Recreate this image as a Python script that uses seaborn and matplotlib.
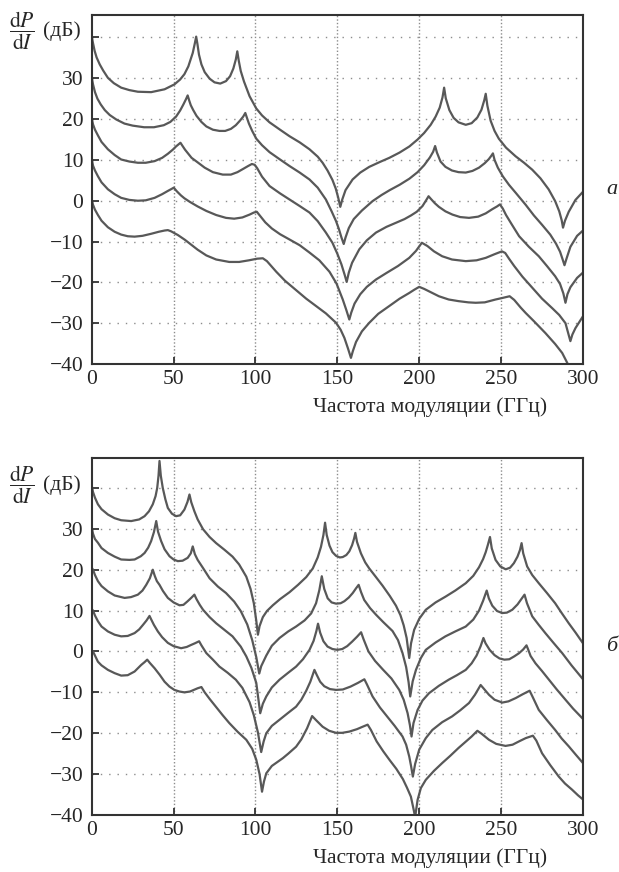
import pandas as pd
import seaborn as sns
import matplotlib.pyplot as plt
from matplotlib.ticker import FixedLocator

# Curves as (frequency GHz, dP/dI dB) points.
# ---- panel "а" ----
a1 = [(0, 40.3), (0.8, 38.6), (1.8, 36.7), (3, 35.1), (4.9, 33.4), (7, 31.9), (9.9, 30.1),
      (13.5, 28.8), (18, 27.7), (23, 27.1), (28.2, 26.7), (36.3, 26.6), (44.5, 27.3),
      (50.5, 28.5), (54, 29.7), (56.6, 31.0), (59, 32.9), (61.7, 36.2), (63, 38.6),
      (63.8, 40.2), (64.6, 38.3), (65.5, 35.8), (67, 33.4), (69, 31.5), (72, 29.9),
      (75, 29.0), (78.5, 28.7), (82, 29.3), (84.5, 30.5), (86.5, 32.4), (88, 34.6),
      (88.9, 36.6), (89.8, 34.3), (91, 31.8), (93, 29.2), (96.4, 25.6), (100.5, 22.6),
      (104, 20.9), (108.6, 19.2), (115, 17.4), (120.8, 15.8), (127, 14.3), (133, 12.6),
      (138, 10.8), (141, 9.3), (144, 7.4), (147, 5.1), (149, 3.0), (150.5, 0.8),
      (151.8, -1.5), (153, 0.3), (155, 2.6), (159.3, 5.2), (164, 6.9), (169.5, 8.3),
      (176, 9.5), (181.7, 10.5), (188, 11.8), (194, 13.3), (199, 15.0), (203, 16.6),
      (207, 18.6), (210, 20.6), (212.5, 22.8), (214.2, 25.3), (215.2, 27.7), (216.2, 25.1),
      (218.4, 22.2), (221, 20.3), (224, 19.2), (228.4, 18.6), (232, 19.0), (235.5, 20.4),
      (238, 22.3), (239.7, 24.6), (240.6, 26.2), (241.6, 23.3), (243.6, 19.6), (246, 17.1),
      (248.6, 15.2), (253, 13.0), (258.8, 10.9), (264, 9.3), (269, 7.6), (274, 5.5),
      (279, 2.8), (283, -0.1), (285.5, -2.6), (287, -4.8), (287.8, -6.6), (289, -4.9),
      (291.3, -2.7), (295.4, 0.2), (300, 2.2)]

a2 = [(0, 30.3), (0.8, 28.5), (2, 26.6), (3.5, 25.0), (5.5, 23.6), (8, 22.2), (11, 21.0),
      (15, 19.9), (20, 18.9), (25, 18.4), (32, 18.0), (38, 18.0), (44, 18.5), (48, 19.3),
      (51.5, 20.6), (54, 22.1), (56, 23.6), (57.6, 24.9), (58.6, 25.8), (59.5, 24.6),
      (60.5, 23.4), (62, 22.2), (64, 20.8), (67, 19.3), (70, 18.2), (74, 17.4), (78, 17.1),
      (81.5, 17.1), (85, 17.6), (88, 18.5), (90.5, 19.6), (92.5, 20.6), (93.8, 21.5),
      (94.8, 20.3), (96, 18.9), (98, 17.1), (100.5, 15.2), (104, 13.6), (108.6, 11.9),
      (115, 10.1), (120.8, 8.5), (127, 6.9), (133, 5.2), (138, 3.2), (143, 0.3),
      (146.5, -2.6), (149.2, -5.0), (151, -7.0), (152.5, -9.0), (153.9, -10.6), (155, -9.0),
      (157, -6.7), (160, -4.5), (165, -2.4), (171.5, -0.1), (177, 1.4), (182, 2.6),
      (188, 3.9), (194, 5.4), (199, 7.0), (203, 8.7), (206.5, 10.6), (208.5, 12.0),
      (209.7, 13.4), (210.8, 11.8), (213, 9.6), (216, 8.3), (220, 7.4), (224, 7.0),
      (228.4, 6.9), (232.5, 7.3), (236.5, 8.1), (240, 9.2), (242.5, 10.2), (244, 11.0),
      (245, 11.6), (246, 10.0), (248, 8.1), (251, 6.0), (254.8, 3.9), (259, 1.9),
      (265, -1.0), (270, -3.6), (275, -5.9), (280, -8.3), (283.5, -10.5), (286, -12.5),
      (287.5, -14.3), (288.7, -15.8), (290, -14.1), (292.3, -11.3), (296.4, -8.6),
      (300, -7.3)]

a3 = [(0, 20.3), (0.8, 18.7), (2, 17.4), (3.8, 16.0), (6, 14.4), (9.9, 12.6), (14, 11.2),
      (18, 10.1), (23, 9.6), (28.2, 9.3), (33, 9.3), (38.4, 9.7), (43, 10.5), (46.5, 11.5),
      (49.5, 12.5), (51.5, 13.3), (53, 13.8), (54.2, 14.2), (55.5, 13.4), (57, 12.5),
      (58.6, 11.7), (61, 10.5), (64.7, 9.4), (69, 8.1), (74, 7.0), (80, 6.4), (85, 6.4),
      (89, 7.0), (92.5, 7.8), (95.5, 8.5), (97.8, 9.0), (99.5, 8.8), (101, 8.0),
      (104, 5.9), (108.6, 3.6), (115, 1.8), (120.8, 0.3), (127, -1.3), (133, -2.9),
      (138, -5.0), (143, -7.8), (147, -10.3), (150, -13.0), (152.5, -15.6), (154.5, -18.2),
      (155.7, -19.9), (157, -17.6), (159, -15.2), (163.4, -11.9), (168, -9.7),
      (173.6, -7.8), (180, -6.4), (185.8, -5.4), (191, -4.5), (195, -3.6), (198.5, -2.7),
      (202, -1.3), (204.5, 0.3), (205.7, 1.1), (207, 0.5), (209.5, -0.6), (212, -1.5),
      (216, -2.6), (220.3, -3.4), (225, -4.0), (230.4, -4.2), (236, -3.9), (240.6, -3.1),
      (244.5, -2.1), (247.5, -1.4), (249.3, -0.9), (251, -1.9), (253, -3.5), (256.5, -5.8),
      (261, -8.7), (267, -11.3), (273, -13.6), (278, -16.0), (283, -18.5), (286, -20.4),
      (288, -22.7), (289.3, -25.0), (290.5, -22.9), (292.3, -21.2), (296.4, -18.9),
      (300, -17.6)]

a4 = [(0, 10.3), (0.8, 8.6), (2, 7.4), (3.8, 6.0), (6, 4.5), (9.9, 2.8), (14, 1.6),
      (18, 0.7), (23, 0.2), (28.2, 0.0), (33, 0.1), (38.4, 0.7), (43, 1.6), (46.5, 2.4),
      (48.8, 2.9), (50.1, 3.2), (52, 2.3), (54.5, 1.3), (56.6, 0.6), (60, -0.3),
      (64.7, -1.4), (70, -2.5), (76, -3.5), (82, -4.2), (87, -4.4), (92, -4.1),
      (96.4, -3.4), (99, -2.9), (100.8, -2.7), (103, -3.8), (106, -5.3), (110, -6.8),
      (115, -8.2), (120.8, -9.5), (127, -10.9), (133, -12.7), (139, -14.6), (145.2, -17.4),
      (149.5, -20.3), (153.3, -24.2), (155.5, -26.8), (157.3, -29.1), (158.5, -27.4),
      (160.5, -25.2), (164, -22.9), (168, -21.1), (173.6, -19.3), (180, -17.7),
      (187, -16.0), (193.9, -14.0), (198, -12.3), (201.6, -10.3), (205, -11.1),
      (209, -12.4), (214, -13.6), (220, -14.4), (228.4, -14.8), (235, -14.6),
      (240.6, -14.0), (246, -13.1), (250.5, -12.4), (252.5, -12.8), (255, -14.3),
      (258, -16.0), (263, -18.6), (269, -21.3), (275, -24.0), (281.4, -26.4),
      (285.5, -28.0), (289.3, -30.0), (291, -32.5), (292.3, -34.4), (293.5, -32.8),
      (295.4, -31.2), (300, -28.3)]

a5 = [(0, 0.3), (0.8, -1.0), (2, -2.2), (3.8, -3.5), (6, -4.9), (9.9, -6.5), (14, -7.6),
      (18, -8.3), (22, -8.7), (26.2, -8.8), (31, -8.6), (36.3, -8.1), (41, -7.6),
      (44.5, -7.3), (46.5, -7.2), (48.5, -7.5), (52.6, -8.4), (57, -9.6), (64.7, -12.0),
      (70, -13.4), (76, -14.4), (84, -15.0), (90, -15.0), (96, -14.6), (101, -14.2),
      (104.5, -14.1), (107, -14.8), (112.7, -17.4), (118, -19.6), (124.8, -21.9),
      (131, -24.0), (137, -25.8), (143, -27.6), (149.2, -29.9), (152, -31.6),
      (154.3, -33.6), (156.5, -36.2), (158.3, -38.5), (159.5, -36.8), (161.4, -34.6),
      (165, -32.0), (169.5, -29.9), (175, -27.7), (181.7, -25.8), (188, -24.0),
      (193.9, -22.6), (197, -21.8), (200, -21.1), (203, -21.6), (207, -22.4), (212, -23.4),
      (218, -24.2), (224, -24.6), (230, -24.9), (234.5, -25.0), (240, -24.9),
      (246.6, -24.2), (251, -23.8), (255.2, -23.4), (258, -24.3), (262, -26.2),
      (265, -27.5), (270, -29.5), (277, -32.4), (283, -35.1), (287.3, -37.3), (292, -41.0)]

# ---- panel "б" ----
b1 = [(0, 40.6), (0.8, 39.0), (2, 37.6), (3.8, 36.0), (6, 34.8), (9.9, 33.5), (14, 32.6),
      (18, 32.1), (24.1, 31.9), (29, 32.3), (32.3, 33.1), (35, 34.3), (37.3, 36.0),
      (39, 38.0), (40, 40.0), (40.8, 43.0), (41.4, 46.6), (42.2, 43.0), (43.4, 40.0),
      (45, 37.2), (46.5, 35.1), (49, 33.7), (51.5, 33.1), (54, 33.3), (56.6, 34.7),
      (58.5, 36.6), (59.7, 38.4), (60.8, 36.5), (62.7, 34.3), (64.7, 32.3), (68, 29.9),
      (72, 28.0), (76, 26.5), (81, 24.9), (86, 23.2), (90, 21.3), (94.4, 18.3), (97, 15.3),
      (99, 11.8), (100.5, 7.5), (101.5, 4.1), (102.5, 6.2), (104.5, 8.4), (107, 9.9),
      (110.6, 11.3), (115, 12.8), (120.8, 14.5), (126, 16.3), (131, 18.2), (135, 20.3),
      (138, 23.0), (140, 25.6), (141.5, 28.5), (142.5, 31.5), (143.5, 28.5), (145.2, 25.9),
      (147, 24.3), (149.2, 23.4), (151.5, 23.0), (153.3, 23.1), (155.5, 23.6),
      (157.3, 24.5), (159, 26.0), (160.2, 27.6), (161, 29.0), (162, 26.8), (164.4, 24.0),
      (167, 21.8), (169.5, 20.3), (173, 18.5), (177.6, 16.1), (182, 13.6), (185.8, 11.2),
      (188.5, 8.9), (190.5, 6.4), (192.3, 3.3), (193.9, -1.6), (195, 2.0), (196.9, 5.3),
      (200, 8.0), (204, 10.2), (210, 12.0), (216, 13.4), (222, 14.9), (228.4, 16.7),
      (233, 18.5), (236.5, 20.6), (239, 22.6), (240.6, 24.3), (242, 26.2), (243.2, 28.0),
      (244.3, 25.2), (246.6, 22.4), (249.5, 20.8), (252.8, 20.1), (255.5, 20.5),
      (257.8, 21.6), (260, 23.2), (261.5, 24.8), (262.5, 26.5), (263.5, 24.0),
      (265.9, 20.8), (269, 18.7), (273, 16.7), (278, 14.3), (283, 11.8), (287, 9.4),
      (291.3, 6.9), (295.5, 4.6), (300, 2.0)]

b2 = [(0, 30.4), (0.8, 28.8), (2, 27.5), (3.8, 26.6), (6, 25.3), (9.9, 24.1), (14, 23.2),
      (18, 22.5), (23, 22.4), (26.2, 22.5), (30, 23.3), (32.3, 24.1), (34.5, 25.4),
      (36.3, 27.0), (38, 29.2), (39.4, 31.9), (40.5, 29.3), (42.4, 27.0), (44.5, 25.0),
      (47.5, 23.3), (50, 22.5), (52.6, 22.1), (55.5, 22.2), (58.6, 22.9), (60.5, 24.0),
      (61.7, 25.7), (63, 23.8), (64.7, 22.4), (68, 20.4), (72, 17.9), (77, 15.9),
      (82, 14.3), (87, 12.2), (91, 9.9), (95, 6.6), (98, 2.8), (100.5, -1.4),
      (102.3, -5.4), (103.5, -3.6), (106.6, -1.0), (110, 1.4), (114.7, 3.3), (120, 4.9),
      (124.8, 6.1), (130, 7.6), (134, 9.3), (137, 11.8), (139, 15.0), (140.5, 18.4),
      (142, 15.3), (144.1, 13.0), (146.5, 12.0), (149.2, 11.7), (152, 11.8), (154.3, 12.3),
      (157, 13.2), (159.4, 14.3), (161.5, 15.5), (163, 16.3), (164.5, 14.5), (166.4, 12.6),
      (170, 10.6), (173.6, 9.0), (178, 7.2), (183.7, 5.0), (187, 2.8), (189.8, -0.4),
      (192, -3.8), (193.5, -7.5), (194.5, -11.0), (196, -7.3), (198, -4.5), (201, -1.6),
      (204, 0.4), (210, 2.2), (216, 3.7), (222, 4.9), (228.4, 6.1), (233, 7.8),
      (236.5, 10.0), (239, 12.4), (241.2, 14.9), (242.5, 13.0), (244.6, 11.2),
      (247.5, 9.9), (250.7, 9.4), (253.5, 9.5), (256.8, 10.2), (260, 11.5), (262.5, 12.9),
      (264.3, 13.9), (265.8, 11.8), (269, 8.6), (273, 6.5), (277, 4.5), (282, 2.1),
      (287.3, -0.4), (293, -3.4), (300, -6.8)]

b3 = [(0, 20.5), (0.8, 20.0), (2, 18.7), (3.8, 17.2), (6, 16.0), (9.9, 14.7), (14, 13.7),
      (20.1, 13.1), (24, 13.3), (28.2, 13.9), (31, 14.9), (33.3, 16.3), (35.5, 17.9),
      (37.3, 20.0), (38.5, 18.5), (39.8, 17.2), (41.4, 16.3), (43.5, 14.8), (46.5, 13.1),
      (50, 12.0), (53.6, 11.3), (56, 11.4), (58.6, 12.3), (61, 13.2), (62.7, 13.9),
      (64, 12.8), (66, 11.4), (68, 10.2), (72, 8.4), (76, 6.9), (81, 5.3), (86, 3.7),
      (91, 1.2), (94.4, -1.2), (97.5, -4.0), (100.5, -7.7), (102.9, -15.1), (104.5, -12.8),
      (106.6, -11.0), (110, -8.8), (114.7, -6.9), (120, -5.2), (124.8, -3.7), (129, -1.9),
      (133, 0.4), (135.5, 2.6), (137.2, 5.0), (138.2, 6.8), (139.5, 4.6), (141.5, 2.5),
      (144, 1.2), (147, 0.6), (150, 0.4), (153, 0.6), (156, 1.3), (159, 2.4), (162, 3.6),
      (164.5, 4.7), (166, 3.0), (169, 0.0), (173, -2.3), (178, -4.5), (183, -6.6),
      (187.8, -9.4), (190.5, -11.8), (192.9, -15.1), (194.3, -18.0), (195.3, -20.8),
      (196.5, -17.5), (199, -14.3), (202, -12.0), (206, -10.2), (212, -8.4), (218, -6.9),
      (223, -5.8), (228.4, -4.5), (232, -2.9), (235, -1.0), (237.5, 1.3), (239.2, 3.3),
      (240.5, 2.0), (243, 0.4), (246, -0.9), (249, -1.7), (252, -2.0), (255, -1.9),
      (258, -1.2), (261, -0.4), (263.5, 0.5), (265.5, 1.5), (266.5, 0.5), (268, -1.1),
      (271, -2.9), (275, -4.8), (279.2, -6.9), (284, -9.3), (289.3, -11.8), (294, -14.0),
      (300, -16.5)]

b4 = [(0, 10.4), (0.8, 10.0), (2, 8.8), (3.8, 7.4), (6, 6.1), (9.9, 4.9), (14, 4.1),
      (18, 3.7), (22, 3.8), (26.2, 4.5), (29, 5.4), (31.3, 6.5), (33.5, 7.6), (35.3, 8.7),
      (36.5, 7.7), (38, 6.5), (40.4, 4.9), (43, 3.5), (46.5, 2.1), (50, 1.3), (54.6, 0.8),
      (58, 1.1), (60.7, 1.6), (63, 2.0), (65.6, 2.5), (67, 1.5), (70, -0.4), (74, -2.0),
      (78, -3.7), (83, -5.2), (88, -6.9), (92, -8.9), (96.4, -12.4), (99, -15.6),
      (101.5, -19.8), (103.5, -24.6), (105, -22.0), (106.6, -20.0), (110, -18.2),
      (114.7, -16.7), (120, -15.0), (124.8, -13.5), (128, -11.8), (131, -9.6),
      (133.5, -7.4), (136, -4.5), (137.5, -5.8), (139.5, -7.4), (142, -8.5), (145.5, -9.2),
      (149.2, -9.4), (153.3, -9.3), (158, -8.6), (162.5, -7.7), (166.5, -6.8), (168, -8.0),
      (171.5, -11.0), (176, -13.7), (180, -15.7), (185, -18.2), (189.8, -20.8),
      (192, -22.8), (193.9, -25.7), (195, -28.0), (196.1, -30.6), (197.5, -27.5),
      (200, -24.0), (204, -21.2), (208, -19.2), (214, -17.3), (220, -15.9), (225, -14.4),
      (230.4, -12.6), (234, -10.6), (237.5, -8.2), (239, -8.9), (242.6, -10.6),
      (246, -11.8), (250.7, -12.5), (254.5, -12.2), (258.9, -11.4), (263, -10.5),
      (267.4, -9.6), (269, -10.9), (273, -14.3), (278, -16.8), (283, -19.2), (287, -21.3),
      (291.3, -23.2), (295.5, -25.2), (300, -27.3)]

b5 = [(0, 0.3), (0.8, 0.0), (2, -1.0), (3.8, -2.5), (6, -3.4), (9.9, -4.5), (14, -5.3),
      (18, -5.9), (22, -5.8), (26.2, -4.9), (30.2, -3.3), (32.3, -2.6), (33.9, -2.0),
      (35.5, -2.8), (38.4, -4.1), (41.5, -5.7), (44.5, -7.4), (47.5, -8.6), (50.5, -9.4),
      (53.6, -9.8), (56.6, -10.0), (60, -9.8), (64.7, -9.0), (67, -8.7), (69, -10.0),
      (72, -11.6), (76, -13.6), (80, -15.6), (84, -17.5), (89, -19.6), (94.4, -21.6),
      (98, -23.8), (100.5, -26.5), (102.5, -30.0), (104, -34.3), (105.2, -31.8),
      (106.6, -29.8), (110, -28.0), (116.7, -26.1), (120, -25.0), (124.8, -23.3),
      (128, -21.5), (131.5, -18.8), (134.6, -15.8), (137, -16.8), (141, -18.4),
      (145, -19.4), (149.2, -19.9), (153, -19.9), (157.3, -19.6), (162, -19.0),
      (165.5, -18.4), (168.5, -17.9), (170.5, -19.2), (174, -22.0), (178, -24.4),
      (182, -26.6), (186, -28.7), (190, -31.2), (192.5, -33.3), (194.9, -35.5),
      (196.5, -38.5), (197.5, -40.5), (199, -36.3), (201, -33.4), (204, -31.4),
      (209, -29.2), (214, -27.3), (219, -25.5), (224, -23.6), (228, -22.2), (232, -20.8),
      (235.5, -19.4), (238, -20.1), (242.6, -21.6), (247, -22.6), (252.7, -23.1),
      (257, -22.8), (260.9, -22.0), (265, -21.2), (269.4, -20.6), (271.5, -21.8),
      (275, -24.9), (280, -27.8), (285.2, -30.6), (289, -32.3), (293.3, -33.8),
      (297, -35.2), (300, -36.2)]

y_ticks = [-40, -30, -20, -10, 0, 10, 20, 30, 40]
y_ticklabels = ["\u221240", "\u221230", "\u221220", "\u221210", "0", "10", "20", "30", ""]
x_ticks = [0, 50, 100, 150, 200, 250, 300]
xlabel = "Частота модуляции (ГГц)"
ylabel_frac = r"$\dfrac{\mathrm{d}P}{\mathrm{d}I}$"
ylabel_unit = "(дБ)"

W, H = 619, 872
CURVE = "#585858"
GRID = "#8c8c8c"
FS = 15.5

sns.set_theme(style="white")
plt.rcParams["font.family"] = ["Liberation Serif", "DejaVu Serif"]
plt.rcParams["mathtext.fontset"] = "stix"
plt.rcParams["axes.unicode_minus"] = True

fig = plt.figure(figsize=(W / 100, H / 100), dpi=100)


def make_panel(bottom_px, top_px, ytop, curves, tag, tag_y, ylab_y):
    left, right = 91.7, 583
    ax = fig.add_axes([left / W, 1 - bottom_px / H,
                       (right - left) / W, (bottom_px - top_px) / H])
    for pts in curves:
        df = pd.DataFrame(pts, columns=["f", "db"])
        sns.lineplot(data=df, x="f", y="db", ax=ax, color=CURVE, lw=1.6,
                     sort=False, estimator=None)
    ax.set_xlim(0, 300)
    ax.set_ylim(-40, ytop)
    ax.set_xlabel("")
    ax.set_ylabel("")
    ax.xaxis.set_major_locator(FixedLocator(x_ticks))
    ax.set_yticks(y_ticks)
    ax.set_yticklabels(y_ticklabels)
    ax.tick_params(direction="in", length=5, width=1.3, color="#333333",
                   labelsize=FS, pad=6, left=True, bottom=True)
    ax.tick_params(axis="x", pad=4)
    for s in ax.spines.values():
        s.set_color("#333333")
        s.set_linewidth(1.5)
    # dotted reference grid
    for y in y_ticks[1:]:
        ax.axhline(y, color=GRID, lw=1.0, ls=(0, (1, 5)), zorder=0)
    for x in x_ticks[1:-1]:
        ax.axvline(x, color=GRID, lw=1.0, ls=(0, (1, 1.5)), zorder=0)
    # y label: fraction and unit side by side, centred on the same line
    fig.text(22 / W, 1 - ylab_y / H, ylabel_frac, ha="center", va="center",
             fontsize=FS)
    fig.text(43 / W, 1 - ylab_y / H, ylabel_unit, ha="left", va="center",
             fontsize=FS)
    fig.text(547 / W, 1 - (bottom_px + 43) / H, xlabel, ha="right", va="center",
             fontsize=FS)
    fig.text(612 / W, 1 - tag_y / H, tag, ha="center", va="center",
             fontsize=16, style="italic")
    return ax


make_panel(364, 15, 45.5, [a1, a2, a3, a4, a5], "а", 190, 31)
make_panel(815, 457.7, 47.4, [b1, b2, b3, b4, b5], "б", 646, 485)

fig.savefig("out.png", dpi=100, facecolor="white")
